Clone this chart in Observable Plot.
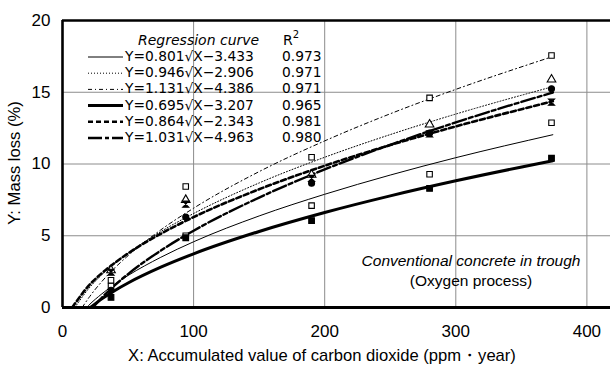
<!DOCTYPE html>
<html><head><meta charset="utf-8">
<script src="https://cdn.jsdelivr.net/npm/d3@7"></script>
<script src="https://cdn.jsdelivr.net/npm/@observablehq/plot@0.6"></script>
<style>
body{margin:0;background:#fff}
#chart{width:610px;height:366px;overflow:hidden}
svg{font-family:"Liberation Sans",Arial,sans-serif}
</style>
</head><body><div id="chart"></div>
<script>
// ---- data ----
const xTicks = [0, 100, 200, 300, 400];
const yTicks = [0, 5, 10, 15, 20];
const xGrid = [100, 200, 300, 400];
const yGrid = [5, 10, 15];
const seriesIds = ["s1", "s2", "s3", "s4", "s5", "s6"];
const equations = ["Y=0.801√X−3.433", "Y=0.946√X−2.906", "Y=1.131√X−4.386", "Y=0.695√X−3.207", "Y=0.864√X−2.343", "Y=1.031√X−4.963"];
const r2Values = ["0.973", "0.971", "0.971", "0.965", "0.981", "0.980"];

// measured points
const obsX = [37, 94, 190, 280, 373];
const obs1 = [1.5, 5.0, 7.1, 9.29, 12.87];   // open square (lower)
const obs2 = [2.6, 7.5, 9.25, 12.75, 15.89]; // open triangle
const obs3 = [1.9, 8.43, 10.47, 14.61, 17.56]; // open square (upper)
const obs4 = [0.7, 4.86, 6.06, 8.3, 10.4];   // filled square
const obs5 = [2.46, 7.2, 9.0, 12.1, 14.31];  // filled hourglass
const obs6 = [1.2, 6.3, 8.66, 12.15, 15.24]; // filled circle

// regression curves
const curveStart = [18.4, 9.4, 15.0, 21.3, 7.4, 23.2];
const curveX = [20, 30, 40, 50, 75, 100, 150, 200, 250, 300, 374];
const curve1 = [0.15, 0.95, 1.63, 2.23, 3.50, 4.58, 6.38, 7.89, 9.23, 10.44, 12.04];
const curve2 = [1.32, 2.28, 3.08, 3.78, 5.29, 6.55, 8.68, 10.47, 12.05, 13.48, 15.39];
const curve3 = [0.67, 1.81, 2.77, 3.61, 5.41, 6.92, 9.47, 11.61, 13.50, 15.20, 17.49];
const curve4 = [null, 0.60, 1.19, 1.71, 2.81, 3.74, 5.30, 6.62, 7.78, 8.83, 10.23];
const curve5 = [1.52, 2.39, 3.12, 3.77, 5.14, 6.30, 8.24, 9.88, 11.32, 12.62, 14.37];
const curve6 = [null, 0.68, 1.56, 2.33, 3.97, 5.35, 7.66, 9.62, 11.34, 12.90, 14.98];

// ---- styles ----
const widths = [1, 1, 1, 3, 2.6, 2.4];
const dashes = [null, "1,2", "4,3,1,3", null, "5,3", "14,3,4,3"];

const hourglass = {draw(ctx, size) {const s = Math.sqrt(size) / 2; ctx.moveTo(-s, -s); ctx.lineTo(s, -s); ctx.lineTo(-s, s); ctx.lineTo(s, s); ctx.closePath();}};
const symbols = ["square", "triangle", "square", "square", hourglass, "circle"];
const fills = ["white", "white", "white", "black", "black", "black"];
const radii = [3.1, 3.2, 3.1, 3.2, 3.4, 3.0];

const curves = [curve1, curve2, curve3, curve4, curve5, curve6];
const obs = [obs1, obs2, obs3, obs4, obs5, obs6];

const curveMarks = curves.map((c, i) => {
  const pts = [{x: curveStart[i], y: 0}];
  curveX.forEach((x, j) => { if (c[j] != null && x > curveStart[i]) pts.push({x, y: c[j]}); });
  return Plot.line(pts, {x: "x", y: "y", curve: "monotone-x", stroke: "black", strokeWidth: widths[i], strokeDasharray: dashes[i] || undefined});
});
const dotMarks = obs.map((o, i) => Plot.dot(obsX.map((x, j) => ({x, y: o[j]})), {x: "x", y: "y", symbol: () => symbols[i], r: radii[i], fill: fills[i], stroke: "black", strokeWidth: 1.1}));

const gridStyle = {stroke: "#8c8c8c", strokeWidth: 1};
const svg = Plot.plot({
  width: 610, height: 366,
  marginLeft: 62, marginRight: 0, marginTop: 20, marginBottom: 59,
  x: {domain: [0, 418]},
  y: {domain: [0, 20]},
  symbol: {type: "identity"},
  style: {fontFamily: "Liberation Sans, Arial, sans-serif", background: "white"},
  marks: [
    Plot.ruleX(xGrid, gridStyle),
    Plot.ruleY(yGrid, gridStyle),
    ...curveMarks,
    ...dotMarks,
    Plot.ruleX([0], {stroke: "black", strokeWidth: 2.6}),
    Plot.ruleY([0], {stroke: "black", strokeWidth: 3}),
    Plot.ruleY([20], {stroke: "black", strokeWidth: 2.4}),
    Plot.axisX({ticks: xTicks, tickSize: 0, tickPadding: 17, fontSize: 17, label: null}),
    Plot.axisY({ticks: yTicks, tickSize: 0, tickPadding: 12, fontSize: 17, label: null})
  ]
});
document.getElementById("chart").appendChild(svg);

// ---- texts & legend ----
const g = d3.select(svg).append("g").attr("fill", "black").attr("font-family", "Liberation Sans, Arial, sans-serif").attr("text-anchor", "start");
g.append("text").attr("x", 322).attr("y", 357).attr("text-anchor", "middle").attr("dominant-baseline", "middle").attr("font-size", 16.6)
  .text("X: Accumulated value of carbon dioxide (ppm・year)");
g.append("text").attr("transform", "translate(16,163) rotate(-90)").attr("text-anchor", "middle").attr("dominant-baseline", "middle").attr("font-size", 16.6)
  .text("Y: Mass loss (%)");
g.append("text").attr("x", 471).attr("y", 262).attr("text-anchor", "middle").attr("dominant-baseline", "middle").attr("font-size", 15.5).attr("font-style", "italic")
  .text("Conventional concrete in trough");
g.append("text").attr("x", 471).attr("y", 282).attr("text-anchor", "middle").attr("dominant-baseline", "middle").attr("font-size", 15.5)
  .text("(Oxygen process)");

const lg = g.append("g").attr("text-anchor", "start").attr("font-family", "DejaVu Sans, sans-serif");
lg.append("text").attr("x", 138).attr("y", 41).attr("dominant-baseline", "middle").attr("font-size", 14).attr("font-style", "italic").text("Regression curve");
const r2t = lg.append("text").attr("x", 283).attr("y", 41).attr("dominant-baseline", "middle").attr("font-size", 14);
r2t.append("tspan").text("R");
r2t.append("tspan").attr("dy", -6).attr("font-size", 10).text("2");
equations.forEach((eq, i) => {
  const y = 57 + i * 16.2;
  lg.append("line").attr("x1", 88).attr("x2", 123).attr("y1", y).attr("y2", y)
    .attr("stroke", "black").attr("stroke-width", widths[i]).attr("stroke-dasharray", dashes[i]);
  lg.append("text").attr("x", 125).attr("y", y).attr("dominant-baseline", "middle").attr("font-size", 13.8).text(eq);
  lg.append("text").attr("x", 282).attr("y", y).attr("dominant-baseline", "middle").attr("font-size", 13.8).text(r2Values[i]);
});
</script>
</body></html>
